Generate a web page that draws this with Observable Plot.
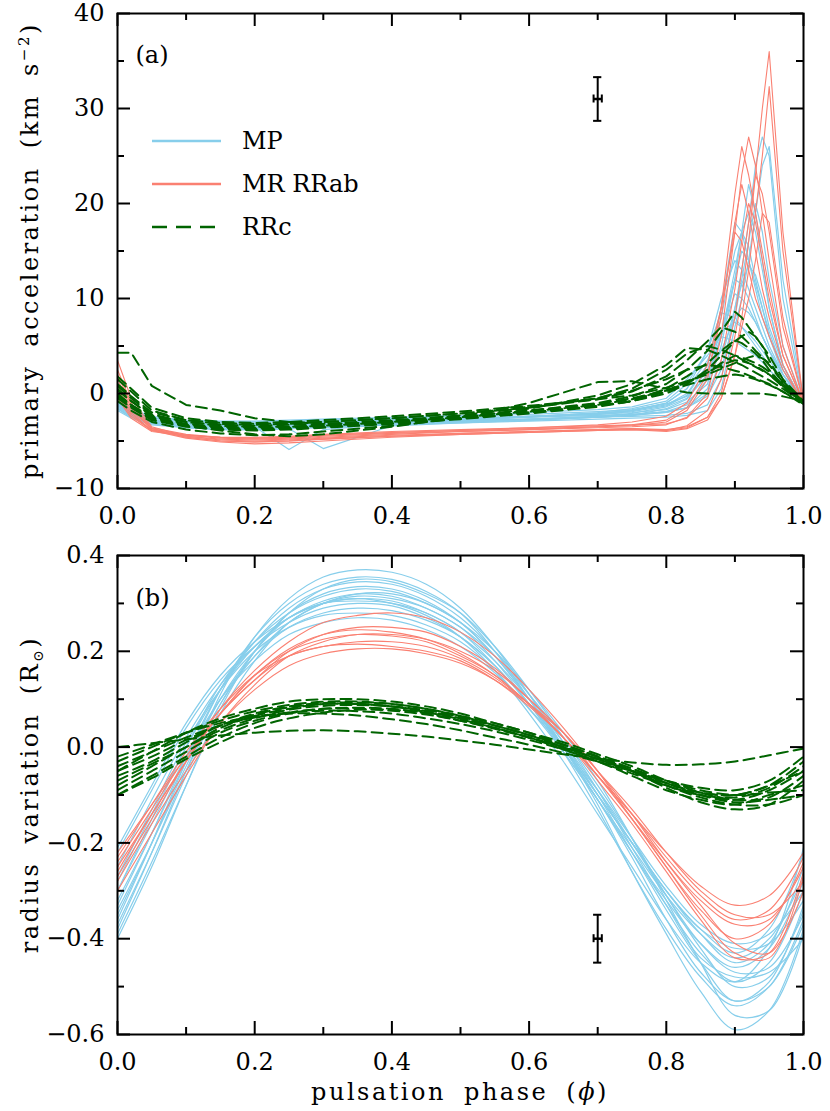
<!DOCTYPE html>
<html><head><meta charset="utf-8">
<script src="https://cdn.jsdelivr.net/npm/d3@7"></script>
<script src="https://cdn.jsdelivr.net/npm/@observablehq/plot@0.6"></script>
<style>
body{margin:0;background:#fff;}
#chart{position:relative;width:830px;height:1111px;background:#fff;}
#chart svg{display:block;}
</style></head><body><div id="chart"></div>
<script>
// ---------- DATA ----------
const seriesNames = ["MP", "MR RRab", "RRc"];
const xTickMajor = [0, 0.2, 0.4, 0.6, 0.8, 1.0];
const xTickMinor = [0.1, 0.3, 0.5, 0.7, 0.9];
const yTickMajorA = [-10, 0, 10, 20, 30, 40];
const yTickMinorA = [-5, 5, 15, 25, 35];
const yTickMajorB = [-0.6, -0.4, -0.2, 0.0, 0.2, 0.4];
const yTickMinorB = [-0.5, -0.3, -0.1, 0.1, 0.3];

// panel (a): primary acceleration (km s^-2)
const phaseA = [0,0.02,0.05,0.1,0.15,0.2,0.25,0.3,0.4,0.5,0.6,0.7,0.75,0.8,0.83,0.86,0.88,0.9,0.91,0.92,0.93,0.94,0.95,0.97,1.0];
const accMP = [
  [-1.2,-2.2,-2.9,-3.3,-3.5,-3.6,-3.5,-3.4,-3.1,-2.9,-2.7,-2.5,-2.4,-2.3,-2.1,-1.2,1.5,9,13,18,24,27,25,10,-1.0],
  [-1.6,-2.5,-3.2,-3.6,-3.8,-3.8,-3.7,-3.6,-3.3,-3.1,-2.9,-2.7,-2.6,-2.5,-2.3,-1.8,0.5,7,10,14,19,24,26,12,-0.8],
  [-0.8,-1.8,-2.6,-3.0,-3.2,-3.2,-3.1,-3.0,-2.8,-2.6,-2.4,-2.2,-2.0,-1.7,-0.9,1.0,6,13,17,19,17,13,9,3,-1.0],
  [-1.0,-2.0,-2.8,-3.1,-3.3,-3.3,-3.2,-3.1,-2.9,-2.7,-2.4,-2.1,-1.8,-1.2,0,3,8,15,17,15.5,12,9,6,2,-1.2],
  [-1.4,-2.3,-3.0,-3.4,-3.6,-3.7,-3.6,-3.5,-3.2,-3.0,-2.8,-2.5,-2.3,-1.9,-1.2,1.5,6,12,15,14,11.5,9,6.5,2.5,-0.9],
  [-0.3,-1.5,-2.5,-2.9,-3.0,-3.0,-2.9,-2.9,-2.7,-2.6,-2.5,-2.3,-2.2,-2.0,-1.5,0,3.5,9,11.5,13.5,12.5,10,7,3,-1.1],
  [-1.1,-2.1,-2.9,-3.2,-3.4,-3.5,-5.9,-3.8,-3.2,-2.9,-2.7,-2.4,-2.1,-1.4,-0.5,2.5,6.5,12,11.5,10,8,6,4.5,1.5,-1.0],
  [-1.8,-2.6,-3.3,-3.6,-3.8,-3.8,-3.7,-5.8,-3.4,-3.1,-2.8,-2.5,-2.3,-1.6,-0.6,2,6,10.5,10,9,7.5,6,4.5,2,-0.7],
  [-0.9,-1.9,-2.6,-2.9,-3.0,-3.0,-2.9,-2.8,-2.6,-2.4,-2.2,-1.9,-1.7,-1.1,-0.3,1.8,4.5,8,9,8.5,7.5,6,4.5,2,-1.0],
  [-1.3,-2.2,-2.9,-3.2,-3.3,-3.3,-3.2,-3.1,-2.9,-2.7,-2.4,-2.1,-1.8,-1.0,0.5,3.5,6.5,7.5,7,6.3,5.5,4.5,3.5,1.5,-1.1],
  [-0.6,-1.7,-2.4,-2.8,-2.9,-2.9,-2.8,-2.7,-2.5,-2.3,-2.0,-1.7,-1.4,-0.5,1.5,4,6,5.5,5,4.5,4,3.3,2.5,1,-1.2],
  [-1.5,-2.4,-3.1,-3.5,-3.7,-3.7,-3.6,-3.5,-3.2,-3.0,-2.8,-2.5,-2.3,-2.0,-1.5,0.5,5,12,17,22,19,14,9,3,-1.0],
  [-1.0,-2.0,-2.8,-3.2,-3.4,-3.5,-3.4,-3.3,-3.1,-2.9,-2.7,-2.4,-2.2,-1.9,-1.5,-0.3,2.5,8,12,16,20,17,12,5,-0.9],
  [-1.2,-2.1,-2.8,-3.2,-3.3,-3.4,-3.3,-3.2,-3.0,-2.8,-2.5,-2.2,-1.9,-1.3,-0.2,3,9,18,17,14,11,8,6,2.5,-1.0],
  [-0.7,-1.8,-2.6,-3.0,-3.2,-3.2,-3.1,-3.0,-2.8,-2.6,-2.4,-2.1,-1.8,-1.0,0.5,4.5,10,14,13,11,9,7,5,2,-1.1],
  [-1.6,-2.5,-3.1,-3.4,-3.6,-3.6,-3.5,-3.3,-3.1,-2.8,-2.5,-2.0,-1.6,-0.8,1,4.5,8.5,8,7,6,5,4,3,1.5,-0.9]
];
const accMR = [
  [3.5,-0.5,-3.5,-4.5,-4.9,-5.0,-4.9,-4.7,-4.4,-4.2,-4.0,-3.8,-3.7,-3.9,-3.6,-2.5,0,6,10,16,23,30,36,17,-1.0],
  [1.5,-1.5,-3.8,-4.6,-5.0,-5.1,-5.0,-4.8,-4.5,-4.3,-4.1,-3.9,-3.8,-4.0,-3.7,-2.8,-0.5,4,8,13,19,25,32.3,15,-1.0],
  [0.5,-2.0,-3.9,-4.4,-4.7,-4.8,-4.7,-4.5,-4.2,-4.0,-3.8,-3.6,-3.5,-3.3,-2.5,0,6,17,23,27,24,19,14,5,-1.1],
  [2.5,-1.0,-3.6,-4.3,-4.6,-4.7,-4.6,-4.4,-4.1,-3.9,-3.7,-3.5,-3.4,-3.0,-1.8,1.5,9,21,26,23,19,15,11,4,-1.0],
  [0.0,-2.2,-3.9,-4.7,-5.1,-5.3,-5.2,-5.0,-4.6,-4.3,-4.1,-3.9,-3.8,-3.9,-3.4,-1.8,1.5,8,13,18,23,21,17,7,-0.8],
  [-0.5,-2.6,-4.0,-4.5,-4.8,-4.9,-4.8,-4.6,-4.3,-4.0,-3.8,-3.5,-3.3,-2.8,-1.5,2,8,18,22,19,15,11,8,3,-1.2],
  [1.0,-1.8,-3.7,-4.4,-4.6,-4.6,-4.5,-4.3,-4.0,-3.8,-3.6,-3.4,-3.3,-3.2,-2.6,-0.5,3.5,11,16,20,18,14,10,4,-1.0],
  [-0.3,-2.4,-3.9,-4.4,-4.6,-4.7,-4.6,-4.4,-4.1,-3.9,-3.6,-3.3,-3.0,-2.4,-1.0,3,9,17,16,13,10,8,6,2.5,-1.1],
  [2.0,-1.2,-3.7,-4.6,-5.0,-5.1,-5.0,-4.8,-4.5,-4.2,-4.0,-3.8,-3.7,-3.8,-3.5,-2.5,-0.5,4,7,10,14,19,18,8,-0.9]
];
const accRRc = [
  [0.5,-0.8,-2.3,-3.0,-3.3,-3.4,-3.3,-3.2,-2.8,-2.4,-1.8,-1.0,-0.3,1.0,2.5,4.5,6.5,8.6,8.0,7.0,6.0,5.0,3.5,1.0,-1.0],
  [-0.5,-1.5,-2.8,-3.5,-3.8,-3.9,-3.8,-3.6,-3.2,-2.7,-2.1,-1.4,-0.8,0.5,1.8,3.2,4.5,5.6,5.3,4.8,4.2,3.5,2.5,0.8,-1.0],
  [1.5,0.2,-1.8,-2.8,-3.2,-3.3,-3.2,-3.0,-2.6,-2.1,-1.5,-0.6,0.2,1.8,3.5,5.5,7.0,6.5,6.0,5.3,4.5,3.8,3.0,1.2,-0.9],
  [0.0,-1.2,-2.5,-3.3,-3.6,-3.7,-3.6,-3.4,-2.9,-2.3,-1.5,-0.5,0.5,2.5,4.2,5.0,4.6,4.0,3.6,3.2,2.8,2.4,2.0,0.8,-1.1],
  [-0.8,-1.8,-3.0,-3.8,-4.2,-4.4,-4.3,-4.0,-3.4,-2.6,-1.6,-0.2,1.0,3.0,4.8,4.6,4.0,3.3,3.0,2.6,2.2,1.8,1.4,0.5,-1.0],
  [0.8,-0.5,-2.2,-3.0,-3.4,-3.5,-3.5,-3.4,-3.0,-2.5,-1.9,-1.2,-0.6,0.3,1.2,2.2,3.0,3.5,3.4,3.2,2.9,2.5,2.0,0.7,-1.0],
  [-0.3,-1.4,-2.7,-3.4,-3.7,-3.8,-3.7,-3.5,-3.1,-2.6,-2.0,-1.3,-0.8,0.0,1.0,2.5,4.0,5.5,6.0,6.5,6.0,5.0,4.0,1.5,-0.8],
  [1.0,-0.3,-2.0,-2.8,-3.1,-3.2,-3.1,-3.0,-2.6,-2.1,-1.4,-0.5,0.3,1.5,2.5,3.0,2.8,2.4,2.2,1.9,1.6,1.3,1.0,0.2,-1.2],
  [-0.2,-1.2,-2.6,-3.4,-3.9,-4.3,-4.5,-4.3,-3.5,-2.5,-1.0,1.2,1.3,0.5,0.1,0.0,0.0,0.0,0.0,0.0,0.0,0.0,-0.1,-0.3,-0.8],
  [0.3,-0.8,-2.4,-3.2,-3.5,-3.6,-3.5,-3.3,-2.9,-2.4,-1.8,-1.1,-0.5,0.3,0.9,1.5,1.8,2.0,1.9,1.7,1.5,1.2,0.9,0.2,-1.1],
  [4.3,4.3,0.8,-1.2,-1.8,-2.6,-3.0,-3.2,-3.0,-2.6,-2.0,-1.3,-0.8,0.2,1.2,2.2,3.2,4.0,3.8,3.5,3.2,2.8,2.3,0.9,-1.0],
  [1.8,0.5,-1.5,-2.6,-3.0,-3.1,-3.0,-2.8,-2.4,-1.9,-1.3,-0.6,-0.2,0.6,1.3,2.0,2.6,3.2,3.5,3.8,4.0,3.7,3.2,1.3,-0.9]
];

// panel (b): radius variation (R_sun)
const phaseB = [0,0.05,0.1,0.15,0.2,0.25,0.3,0.35,0.4,0.45,0.5,0.55,0.6,0.65,0.7,0.75,0.8,0.85,0.9,0.95,1.0];
const radMP = [
  [-0.38,-0.22,-0.05,0.11,0.23,0.31,0.355,0.37,0.365,0.34,0.29,0.21,0.11,0.0,-0.12,-0.26,-0.39,-0.51,-0.59,-0.55,-0.38],
  [-0.36,-0.2,-0.03,0.12,0.23,0.3,0.34,0.355,0.35,0.325,0.28,0.2,0.1,-0.01,-0.13,-0.26,-0.38,-0.48,-0.54,-0.5,-0.36],
  [-0.33,-0.18,-0.02,0.12,0.22,0.29,0.33,0.345,0.34,0.315,0.27,0.2,0.11,0.01,-0.1,-0.22,-0.34,-0.45,-0.53,-0.49,-0.33],
  [-0.3,-0.15,0.0,0.13,0.22,0.28,0.315,0.33,0.325,0.3,0.26,0.19,0.1,0.0,-0.11,-0.22,-0.33,-0.43,-0.49,-0.45,-0.3],
  [-0.4,-0.25,-0.08,0.08,0.2,0.28,0.33,0.35,0.345,0.32,0.28,0.21,0.12,0.02,-0.09,-0.21,-0.33,-0.44,-0.48,-0.47,-0.4],
  [-0.28,-0.14,0.0,0.12,0.21,0.27,0.305,0.32,0.315,0.29,0.25,0.18,0.09,-0.01,-0.11,-0.22,-0.32,-0.41,-0.46,-0.42,-0.28],
  [-0.25,-0.11,0.02,0.13,0.21,0.27,0.3,0.31,0.305,0.28,0.24,0.17,0.09,0.0,-0.1,-0.2,-0.3,-0.39,-0.45,-0.41,-0.25],
  [-0.35,-0.2,-0.04,0.1,0.2,0.27,0.3,0.305,0.3,0.28,0.24,0.18,0.1,0.01,-0.09,-0.2,-0.31,-0.41,-0.47,-0.46,-0.35],
  [-0.22,-0.09,0.04,0.14,0.21,0.26,0.29,0.3,0.295,0.27,0.23,0.17,0.09,0.0,-0.1,-0.2,-0.3,-0.38,-0.43,-0.38,-0.22],
  [-0.32,-0.18,-0.03,0.1,0.19,0.25,0.28,0.29,0.285,0.265,0.23,0.17,0.09,0.0,-0.1,-0.2,-0.3,-0.38,-0.42,-0.41,-0.32],
  [-0.27,-0.13,0.01,0.12,0.2,0.25,0.275,0.28,0.275,0.255,0.22,0.16,0.08,-0.01,-0.11,-0.21,-0.31,-0.39,-0.44,-0.4,-0.27],
  [-0.3,-0.16,-0.02,0.1,0.18,0.235,0.26,0.27,0.265,0.245,0.21,0.155,0.08,0.0,-0.09,-0.19,-0.29,-0.37,-0.41,-0.39,-0.3],
  [-0.37,-0.22,-0.06,0.09,0.2,0.28,0.32,0.335,0.33,0.305,0.26,0.19,0.1,0.0,-0.11,-0.23,-0.36,-0.47,-0.53,-0.5,-0.37],
  [-0.34,-0.2,-0.05,0.09,0.19,0.26,0.3,0.315,0.31,0.29,0.25,0.19,0.11,0.02,-0.08,-0.19,-0.31,-0.42,-0.5,-0.48,-0.34],
  [-0.21,-0.08,0.05,0.15,0.22,0.27,0.3,0.31,0.3,0.275,0.23,0.16,0.07,-0.03,-0.14,-0.25,-0.36,-0.45,-0.49,-0.42,-0.21],
  [-0.39,-0.24,-0.08,0.07,0.18,0.26,0.3,0.32,0.32,0.3,0.26,0.2,0.12,0.03,-0.07,-0.19,-0.32,-0.45,-0.56,-0.55,-0.39]
];
const radMR = [
  [-0.27,-0.15,-0.03,0.08,0.16,0.22,0.26,0.275,0.28,0.27,0.24,0.19,0.12,0.04,-0.05,-0.15,-0.25,-0.35,-0.43,-0.44,-0.27],
  [-0.25,-0.14,-0.03,0.07,0.14,0.2,0.235,0.25,0.25,0.24,0.21,0.165,0.1,0.03,-0.06,-0.15,-0.24,-0.32,-0.37,-0.36,-0.25],
  [-0.3,-0.18,-0.06,0.05,0.13,0.19,0.22,0.235,0.235,0.225,0.2,0.16,0.1,0.03,-0.05,-0.14,-0.24,-0.33,-0.41,-0.43,-0.3],
  [-0.22,-0.12,-0.02,0.07,0.14,0.19,0.21,0.22,0.22,0.21,0.185,0.145,0.09,0.02,-0.06,-0.14,-0.22,-0.29,-0.33,-0.31,-0.22],
  [-0.28,-0.16,-0.05,0.05,0.12,0.17,0.195,0.205,0.205,0.195,0.175,0.14,0.09,0.03,-0.05,-0.13,-0.22,-0.3,-0.35,-0.35,-0.28],
  [-0.24,-0.13,-0.02,0.07,0.15,0.2,0.225,0.235,0.232,0.22,0.19,0.15,0.09,0.02,-0.06,-0.15,-0.25,-0.34,-0.4,-0.37,-0.24],
  [-0.26,-0.14,-0.03,0.07,0.15,0.205,0.235,0.245,0.24,0.225,0.195,0.15,0.09,0.02,-0.07,-0.16,-0.26,-0.36,-0.44,-0.43,-0.26],
  [-0.23,-0.12,-0.01,0.08,0.15,0.19,0.21,0.215,0.21,0.2,0.18,0.14,0.085,0.02,-0.06,-0.14,-0.23,-0.31,-0.36,-0.34,-0.23]
];
const radRRc = [
  [-0.05,-0.01,0.03,0.06,0.08,0.095,0.1,0.1,0.095,0.085,0.07,0.05,0.03,0.005,-0.02,-0.05,-0.08,-0.1,-0.11,-0.09,-0.05],
  [-0.08,-0.04,0.0,0.04,0.065,0.08,0.09,0.09,0.085,0.075,0.06,0.04,0.02,-0.005,-0.03,-0.06,-0.09,-0.11,-0.12,-0.1,-0.08],
  [-0.03,0.0,0.03,0.055,0.075,0.088,0.095,0.095,0.09,0.08,0.065,0.045,0.025,0.0,-0.025,-0.05,-0.075,-0.095,-0.1,-0.08,-0.03],
  [-0.1,-0.06,-0.02,0.02,0.05,0.07,0.08,0.082,0.08,0.07,0.055,0.04,0.02,0.0,-0.025,-0.05,-0.08,-0.105,-0.12,-0.12,-0.1],
  [0.0,0.008,0.016,0.024,0.03,0.034,0.035,0.033,0.028,0.022,0.014,0.005,-0.005,-0.015,-0.024,-0.032,-0.037,-0.036,-0.03,-0.017,-0.003],
  [-0.06,-0.03,0.01,0.045,0.07,0.085,0.092,0.093,0.09,0.08,0.065,0.05,0.03,0.01,-0.015,-0.04,-0.07,-0.095,-0.11,-0.105,-0.06],
  [-0.09,-0.05,-0.01,0.03,0.055,0.072,0.08,0.08,0.076,0.068,0.055,0.038,0.02,0.0,-0.02,-0.045,-0.07,-0.09,-0.1,-0.095,-0.09],
  [-0.04,-0.01,0.02,0.045,0.062,0.072,0.076,0.075,0.07,0.06,0.048,0.033,0.015,-0.005,-0.03,-0.055,-0.08,-0.1,-0.105,-0.085,-0.04],
  [-0.07,-0.035,0.0,0.035,0.06,0.078,0.086,0.088,0.085,0.077,0.063,0.045,0.025,0.005,-0.02,-0.05,-0.085,-0.115,-0.13,-0.12,-0.07],
  [-0.02,0.005,0.03,0.05,0.064,0.07,0.07,0.066,0.058,0.048,0.035,0.02,0.005,-0.012,-0.03,-0.05,-0.07,-0.085,-0.09,-0.07,-0.02],
  [-0.1,-0.065,-0.025,0.01,0.04,0.06,0.072,0.078,0.078,0.072,0.06,0.045,0.025,0.005,-0.02,-0.045,-0.075,-0.1,-0.115,-0.11,-0.1],
  [-0.05,-0.02,0.015,0.045,0.068,0.083,0.09,0.09,0.085,0.073,0.058,0.04,0.02,-0.002,-0.025,-0.05,-0.075,-0.095,-0.1,-0.08,-0.05]
];

// typical error bars
const errA = [{phase: 0.7, value: 31, yerr: 2.3, xerr: 0.006}];
const errB = [{phase: 0.7, value: -0.4, yerr: 0.05, xerr: 0.006}];

// ---------- STYLE ----------
const COL = {"MP": "#87CEEB", "MR RRab": "#FA8072", "RRc": "#006400"};
const FONT = "DejaVu Serif";
const FS = 24;
const DASH = "11,6";

function toLong(phases, curves, name) {
  return curves.flatMap((vals, i) => vals.map((v, j) => ({phase: phases[j], value: v, id: name + "-" + i})));
}
const fmt1 = d3.format(".1f");
const fmtInt = d3.format("d");

function frameTicks(innerW, innerH, yMaj, yMin) {
  const M = 13, m = 7, sw = 2;
  const o = {stroke: "black", strokeWidth: sw};
  return [
    Plot.ruleX(xTickMajor, {x: d => d, insetTop: innerH - M, ...o}),
    Plot.ruleX(xTickMinor, {x: d => d, insetTop: innerH - m, ...o}),
    Plot.ruleX(xTickMajor, {x: d => d, insetBottom: innerH - M, ...o}),
    Plot.ruleX(xTickMinor, {x: d => d, insetBottom: innerH - m, ...o}),
    Plot.ruleY(yMaj, {y: d => d, insetRight: innerW - M, ...o}),
    Plot.ruleY(yMin, {y: d => d, insetRight: innerW - m, ...o}),
    Plot.ruleY(yMaj, {y: d => d, insetLeft: innerW - M, ...o}),
    Plot.ruleY(yMin, {y: d => d, insetLeft: innerW - m, ...o})
  ];
}

function errMarks(err, capY) {
  const o = {stroke: "black", strokeWidth: 2};
  return [
    Plot.ruleX(err, {x: "phase", y1: d => d.value - d.yerr, y2: d => d.value + d.yerr, ...o}),
    Plot.ruleY(err, {y: d => d.value + d.yerr, x1: d => d.phase - d.xerr, x2: d => d.phase + d.xerr, ...o}),
    Plot.ruleY(err, {y: d => d.value - d.yerr, x1: d => d.phase - d.xerr, x2: d => d.phase + d.xerr, ...o}),
    Plot.ruleY(err, {y: "value", x1: d => d.phase - d.xerr, x2: d => d.phase + d.xerr, stroke: "black", strokeWidth: 2.5}),
    Plot.ruleX(err, {x: d => d.phase - d.xerr, y1: d => d.value - capY, y2: d => d.value + capY, ...o}),
    Plot.ruleX(err, {x: d => d.phase + d.xerr, y1: d => d.value - capY, y2: d => d.value + capY, ...o})
  ];
}

const W = 830;
const mL = 117, mR = 27;
const innerW = W - mL - mR;

// ---------- PANEL (a) ----------
const hA = 535, mTA = 13, mBA = 47, innerHA = hA - mTA - mBA;
const domA = [-10, 40];
const capA = (domA[1] - domA[0]) * 4 / innerHA;
const plotA = Plot.plot({
  width: W, height: hA, marginTop: mTA, marginBottom: mBA, marginLeft: mL, marginRight: mR,
  x: {domain: [0, 1], label: null},
  y: {domain: domA, label: null},
  style: {fontFamily: FONT, fontSize: FS + "px", color: "black", background: "white"},
  marks: [
    Plot.line(toLong(phaseA, accMP, "MP"), {x: "phase", y: "value", z: "id", stroke: COL["MP"], strokeWidth: 1.2, clip: true}),
    Plot.line(toLong(phaseA, accMR, "MR"), {x: "phase", y: "value", z: "id", stroke: COL["MR RRab"], strokeWidth: 1.1, clip: true}),
    Plot.line(toLong(phaseA, accRRc, "RRc"), {x: "phase", y: "value", z: "id", stroke: COL["RRc"], strokeWidth: 2, strokeDasharray: DASH, clip: true}),
    ...errMarks(errA, capA),
    ...frameTicks(innerW, innerHA, yTickMajorA, yTickMinorA),
    Plot.frame({stroke: "black", strokeWidth: 2}),
    Plot.axisX(xTickMajor, {tickSize: 0, tickPadding: 18, tickFormat: fmt1, label: null}),
    Plot.axisY(yTickMajorA, {tickSize: 0, tickPadding: 13, tickFormat: fmtInt, label: null}),
    Plot.text(["(a)"], {frameAnchor: "top-left", dx: 18, dy: 42, textAnchor: "start", lineAnchor: "middle"})
  ]
});

// ---------- PANEL (b) ----------
const hB = 576, mTB = 20, mBB = 77, innerHB = hB - mTB - mBB;
const domB = [-0.6, 0.4];
const capB = (domB[1] - domB[0]) * 4 / innerHB;
const plotB = Plot.plot({
  width: W, height: hB, marginTop: mTB, marginBottom: mBB, marginLeft: mL, marginRight: mR,
  x: {domain: [0, 1], label: null},
  y: {domain: domB, label: null},
  style: {fontFamily: FONT, fontSize: FS + "px", color: "black", background: "white"},
  marks: [
    Plot.line(toLong(phaseB, radMP, "MP"), {x: "phase", y: "value", z: "id", stroke: COL["MP"], strokeWidth: 1.2, curve: "catmull-rom", clip: true}),
    Plot.line(toLong(phaseB, radMR, "MR"), {x: "phase", y: "value", z: "id", stroke: COL["MR RRab"], strokeWidth: 1.1, curve: "catmull-rom", clip: true}),
    Plot.line(toLong(phaseB, radRRc, "RRc"), {x: "phase", y: "value", z: "id", stroke: COL["RRc"], strokeWidth: 2, strokeDasharray: DASH, curve: "catmull-rom", clip: true}),
    ...errMarks(errB, capB),
    ...frameTicks(innerW, innerHB, yTickMajorB, yTickMinorB),
    Plot.frame({stroke: "black", strokeWidth: 2}),
    Plot.axisX(xTickMajor, {tickSize: 0, tickPadding: 18, tickFormat: fmt1, label: null}),
    Plot.axisY(yTickMajorB, {tickSize: 0, tickPadding: 13, tickFormat: fmt1, label: null}),
    Plot.text(["(b)"], {frameAnchor: "top-left", dx: 18, dy: 43, textAnchor: "start", lineAnchor: "middle"})
  ]
});

const root = document.getElementById("chart");
root.appendChild(plotA);
root.appendChild(plotB);

// ---------- axis titles & legend ----------
const titleStyle = sel => sel.attr("text-anchor", "middle").attr("fill", "black")
  .style("font-size", FS + "px").style("letter-spacing", "2.5px").style("word-spacing", "8px");

const sA = d3.select(plotA);
const tA = sA.append("text")
  .attr("transform", `translate(38,${mTA + innerHA / 2}) rotate(-90)`).call(titleStyle);
tA.append("tspan").text("primary acceleration (km s");
tA.append("tspan").attr("dy", -9).style("font-size", "15px").text("−2");
tA.append("tspan").attr("dy", 9).text(")");

const sB = d3.select(plotB);
const tB = sB.append("text")
  .attr("transform", `translate(38,${mTB + innerHB / 2}) rotate(-90)`).call(titleStyle);
tB.append("tspan").text("radius variation (R");
tB.append("tspan").attr("dy", 5).style("font-size", "14px").text("⊙");
tB.append("tspan").attr("dy", -5).text(")");

sB.append("text")
  .attr("x", mL + innerW / 2).attr("y", hB - 11).call(titleStyle)
  .html('pulsation phase (<tspan font-style="italic">ϕ</tspan>)');

// legend (inside panel a)
const leg = sA.append("g");
seriesNames.forEach((name, i) => {
  const y = 141 + i * 43;
  leg.append("line").attr("x1", 152).attr("x2", 221).attr("y1", y).attr("y2", y)
    .attr("stroke", COL[name]).attr("stroke-width", 2.5)
    .attr("stroke-dasharray", name === "RRc" ? "15,9" : null);
  leg.append("text").attr("x", 242).attr("y", y).attr("dy", "0.35em")
    .attr("text-anchor", "start")
    .attr("fill", "black").style("font-size", FS + "px").text(name);
});
</script>
</body></html>
